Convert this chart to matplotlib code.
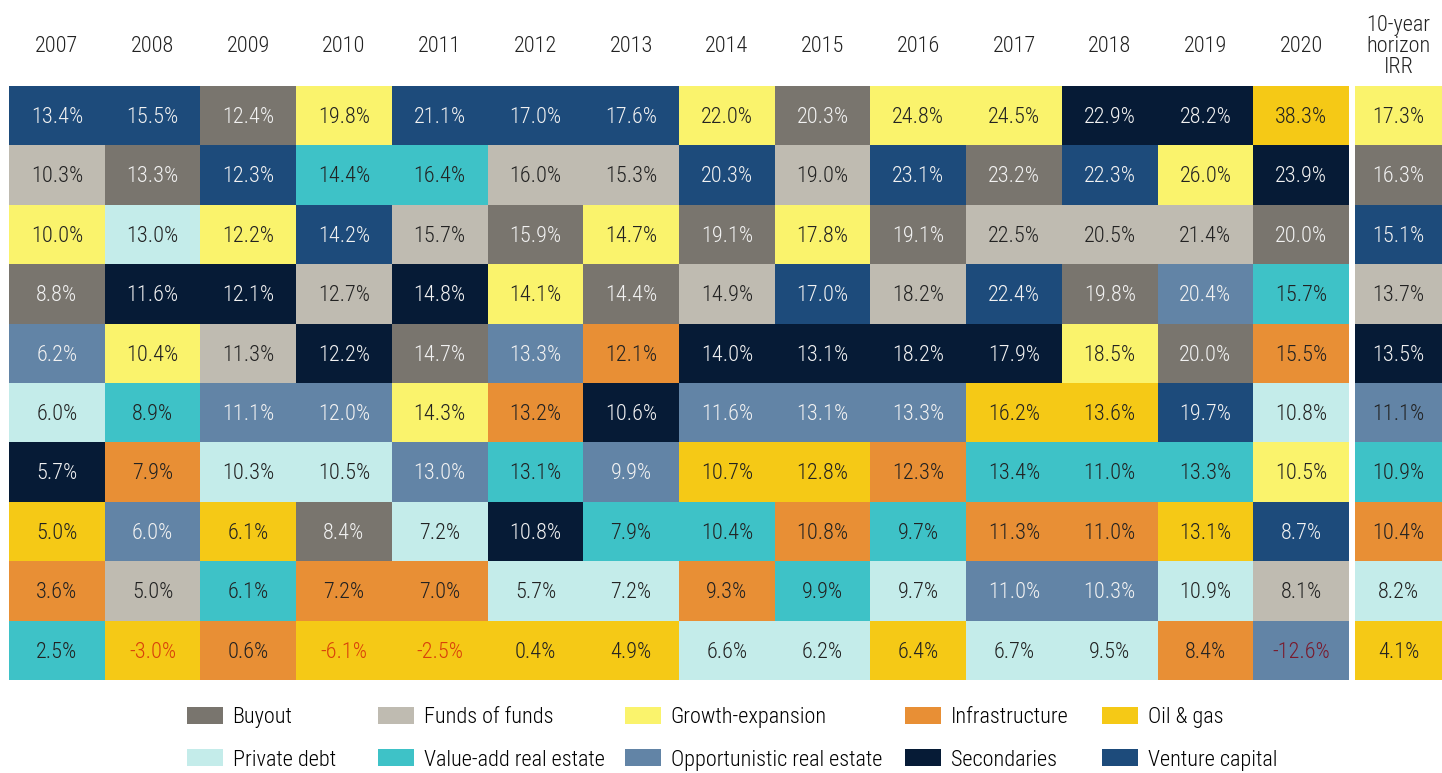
import matplotlib
matplotlib.use("Agg")
from matplotlib import pyplot as plt
from matplotlib import font_manager
from matplotlib.patches import Patch

# pick a narrow face if one is installed
installed = {f.name for f in font_manager.fontManager.ttflist}
narrow = None
for fam in ['Liberation Sans Narrow', 'Roboto Condensed', 'Open Sans Condensed']:
    if fam in installed:
        narrow = fam
        break
if narrow:
    plt.rcParams['font.family'] = [narrow, 'DejaVu Sans']
    FS = 16
else:
    plt.rcParams['font.family'] = ['Roboto', 'DejaVu Sans']
    FS = 13.5
plt.rcParams['font.weight'] = 'light'

# Asset classes: code -> (name, colour)
codes = ['B', 'F', 'G', 'I', 'O', 'P', 'V', 'R', 'S', 'C']
names = ['Buyout', 'Funds of funds', 'Growth-expansion', 'Infrastructure', 'Oil & gas',
         'Private debt', 'Value-add real estate', 'Opportunistic real estate',
         'Secondaries', 'Venture capital']
colors = ['#79756e', '#bfbbb1', '#faf36c', '#e88f35', '#f5c916',
          '#c4ecea', '#3ec2c7', '#6284a6', '#061b36', '#1d4b7b']
dark_bg = ['B', 'R', 'S', 'C']

years = ['2007', '2008', '2009', '2010', '2011', '2012', '2013',
         '2014', '2015', '2016', '2017', '2018', '2019', '2020']

# ranked top to bottom, one list per year
ranks = {
    '2007': ['C', 'F', 'G', 'B', 'R', 'P', 'S', 'O', 'I', 'V'],
    '2008': ['C', 'B', 'P', 'S', 'G', 'V', 'I', 'R', 'F', 'O'],
    '2009': ['B', 'C', 'G', 'S', 'F', 'R', 'P', 'O', 'V', 'I'],
    '2010': ['G', 'V', 'C', 'F', 'S', 'R', 'P', 'B', 'I', 'O'],
    '2011': ['C', 'V', 'F', 'S', 'B', 'G', 'R', 'P', 'I', 'O'],
    '2012': ['C', 'F', 'B', 'G', 'R', 'I', 'V', 'S', 'P', 'O'],
    '2013': ['C', 'F', 'G', 'B', 'I', 'S', 'R', 'V', 'P', 'O'],
    '2014': ['G', 'C', 'B', 'F', 'S', 'R', 'O', 'V', 'I', 'P'],
    '2015': ['B', 'F', 'G', 'C', 'S', 'R', 'O', 'I', 'V', 'P'],
    '2016': ['G', 'C', 'B', 'F', 'S', 'R', 'I', 'V', 'P', 'O'],
    '2017': ['G', 'B', 'F', 'C', 'S', 'O', 'V', 'I', 'R', 'P'],
    '2018': ['S', 'C', 'F', 'B', 'G', 'O', 'V', 'I', 'R', 'P'],
    '2019': ['S', 'G', 'F', 'R', 'B', 'C', 'V', 'O', 'P', 'I'],
    '2020': ['O', 'S', 'B', 'V', 'I', 'P', 'G', 'C', 'F', 'R'],
}
irr = {
    '2007': [13.4, 10.3, 10.0, 8.8, 6.2, 6.0, 5.7, 5.0, 3.6, 2.5],
    '2008': [15.5, 13.3, 13.0, 11.6, 10.4, 8.9, 7.9, 6.0, 5.0, -3.0],
    '2009': [12.4, 12.3, 12.2, 12.1, 11.3, 11.1, 10.3, 6.1, 6.1, 0.6],
    '2010': [19.8, 14.4, 14.2, 12.7, 12.2, 12.0, 10.5, 8.4, 7.2, -6.1],
    '2011': [21.1, 16.4, 15.7, 14.8, 14.7, 14.3, 13.0, 7.2, 7.0, -2.5],
    '2012': [17.0, 16.0, 15.9, 14.1, 13.3, 13.2, 13.1, 10.8, 5.7, 0.4],
    '2013': [17.6, 15.3, 14.7, 14.4, 12.1, 10.6, 9.9, 7.9, 7.2, 4.9],
    '2014': [22.0, 20.3, 19.1, 14.9, 14.0, 11.6, 10.7, 10.4, 9.3, 6.6],
    '2015': [20.3, 19.0, 17.8, 17.0, 13.1, 13.1, 12.8, 10.8, 9.9, 6.2],
    '2016': [24.8, 23.1, 19.1, 18.2, 18.2, 13.3, 12.3, 9.7, 9.7, 6.4],
    '2017': [24.5, 23.2, 22.5, 22.4, 17.9, 16.2, 13.4, 11.3, 11.0, 6.7],
    '2018': [22.9, 22.3, 20.5, 19.8, 18.5, 13.6, 11.0, 11.0, 10.3, 9.5],
    '2019': [28.2, 26.0, 21.4, 20.4, 20.0, 19.7, 13.3, 13.1, 10.9, 8.4],
    '2020': [38.3, 23.9, 20.0, 15.7, 15.5, 10.8, 10.5, 8.7, 8.1, -12.6],
}
horizon_ranks = ['G', 'B', 'C', 'F', 'S', 'R', 'V', 'I', 'P', 'O']
horizon_irr = [17.3, 16.3, 15.1, 13.7, 13.5, 11.1, 10.9, 10.4, 8.2, 4.1]

col_of = dict(zip(codes, colors))
W, H = 1442, 773
fig = plt.figure(figsize=(W / 100, H / 100), dpi=100)
ax = fig.add_axes([9 / W, 93 / H, 1340 / W, 594 / H])
ax2 = fig.add_axes([1355 / W, 93 / H, 87 / W, 594 / H])


def draw_column(a, x, cats, vals, white_on=dark_bg):
    nrows = len(vals)
    for r, (c, v) in enumerate(zip(cats, vals)):
        a.bar(x, 1, bottom=nrows - 1 - r, width=1, color=col_of[c], linewidth=0, align='center')
        if v < 0:
            tc = '#7a1a2c' if c in dark_bg else '#d9410b'
        elif c in white_on:
            tc = '#f2f2f2'
        else:
            tc = '#222222'
        a.text(x, nrows - 0.53 - r, f'{v:.1f}%', ha='center', va='center',
               fontsize=FS, color=tc)


for i, y in enumerate(years):
    draw_column(ax, i, ranks[y], irr[y])
    ax.text(i, 10.66, y, ha='center', va='center', fontsize=FS, color='#222222')
ax.set_xlim(-0.5, len(years) - 0.5)
ax.set_ylim(0, 10)
ax.axis('off')

draw_column(ax2, 0, horizon_ranks, horizon_irr, white_on=['B', 'S', 'C'])
ax2.text(0, 10.66, '10-year\nhorizon\nIRR', ha='center', va='center', fontsize=FS,
         color='#222222', linespacing=1.0)
ax2.set_xlim(-0.5, 0.5)
ax2.set_ylim(0, 10)
ax2.axis('off')

# legend: five columns of two entries, placed at the reference's x positions
legend_cols = [[0, 5], [1, 6], [2, 7], [3, 8], [4, 9]]
legend_x = [187, 378, 625, 905, 1102]
for pair, lx in zip(legend_cols, legend_x):
    hs = [Patch(facecolor=colors[k], edgecolor='none', label=names[k]) for k in pair]
    fig.legend(handles=hs, loc='upper left', bbox_to_anchor=(lx / W, 66 / H),
               frameon=False, fontsize=FS, handlelength=1.6, handleheight=0.8,
               labelspacing=0.95, handletextpad=0.45, borderpad=0, borderaxespad=0)

fig.savefig('out.png', dpi=100)
